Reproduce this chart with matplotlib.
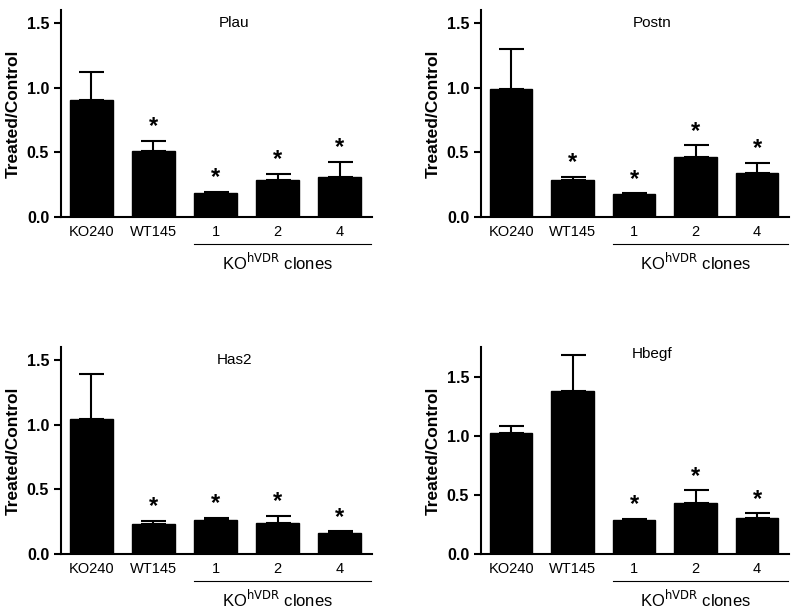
import matplotlib
matplotlib.use("Agg")
import matplotlib.pyplot as plt
import matplotlib.transforms as mtransforms

plt.rcParams['font.family'] = ['Liberation Sans', 'DejaVu Sans']

categories = ["KO240", "WT145", "1", "2", "4"]
group_label = r"KO$^{\mathrm{hVDR}}$ clones"
ylabel = "Treated/Control"

titles = ["Plau", "Postn", "Has2", "Hbegf"]

plau_mean = [0.907, 0.512, 0.185, 0.283, 0.309]
plau_err = [0.213, 0.076, 0.012, 0.052, 0.119]
plau_sig = [False, True, True, True, True]

postn_mean = [0.992, 0.283, 0.175, 0.464, 0.343]
postn_err = [0.308, 0.026, 0.008, 0.090, 0.077]
postn_sig = [False, True, True, True, True]

has2_mean = [1.046, 0.232, 0.262, 0.240, 0.165]
has2_err = [0.343, 0.025, 0.018, 0.055, 0.011]
has2_sig = [False, True, True, True, True]

hbegf_mean = [1.020, 1.379, 0.291, 0.432, 0.305]
hbegf_err = [0.062, 0.301, 0.006, 0.108, 0.040]
hbegf_sig = [False, False, True, True, True]

yticks = [0.0, 0.5, 1.0, 1.5]
ylims = [1.6, 1.6, 1.6, 1.75]

means = [plau_mean, postn_mean, has2_mean, hbegf_mean]
errs = [plau_err, postn_err, has2_err, hbegf_err]
sigs = [plau_sig, postn_sig, has2_sig, hbegf_sig]

W, H = 800, 615
fig = plt.figure(figsize=(W / 100, H / 100), dpi=100)

# axes boxes in pixels: left, right, top, bottom
boxes = [(61, 372, 10, 217), (481, 789, 10, 217),
         (61, 372, 347, 554), (481, 789, 347, 554)]

for i, (l, r, t, b) in enumerate(boxes):
    ax = fig.add_axes([l / W, 1 - b / H, (r - l) / W, (b - t) / H])
    x = list(range(len(categories)))
    m = means[i]
    e = errs[i]
    ax.bar(x, m, width=0.69, color='black', edgecolor='black', zorder=2)
    ax.errorbar(x, m, yerr=[[0] * len(m), e], fmt='none', ecolor='black',
                elinewidth=1.5, capsize=9, capthick=1.5, zorder=1)
    for xi, mi, ei, s in zip(x, m, e, sigs[i]):
        if s:
            ax.text(xi, mi + ei + 0.02, "*", ha='center', va='bottom',
                    fontsize=17, fontweight='bold')
    ax.set_xlim(-0.49, 4.52)
    ax.set_ylim(0, ylims[i])
    ax.set_yticks(yticks)
    ax.set_yticklabels([f"{v:.1f}" for v in yticks], fontsize=11.5, fontweight='bold')
    ax.set_xticks(x)
    ax.set_xticklabels(categories, fontsize=10.5)
    ax.tick_params(axis='x', length=0, pad=6)
    ax.tick_params(axis='y', length=5, width=1.5, direction='out')
    for sp in ['top', 'right']:
        ax.spines[sp].set_visible(False)
    for sp in ['left', 'bottom']:
        ax.spines[sp].set_linewidth(1.5)
    ax.set_ylabel(ylabel, fontsize=12.5, fontweight='bold', labelpad=4)
    ax.text(2.3, ylims[i] * 0.97 if i < 3 else ylims[i] * 1.0, titles[i],
            ha='center', va='top', fontsize=11)
    trans = mtransforms.blended_transform_factory(ax.transData, ax.transAxes)
    ax.plot([2 - 0.345, 4.5], [-0.13, -0.13], color='black', lw=0.8,
            transform=trans, clip_on=False)
    ax.text(3.0, -0.22, group_label, ha='center', va='center', fontsize=12,
            transform=trans)

fig.savefig("out.png", dpi=100)
